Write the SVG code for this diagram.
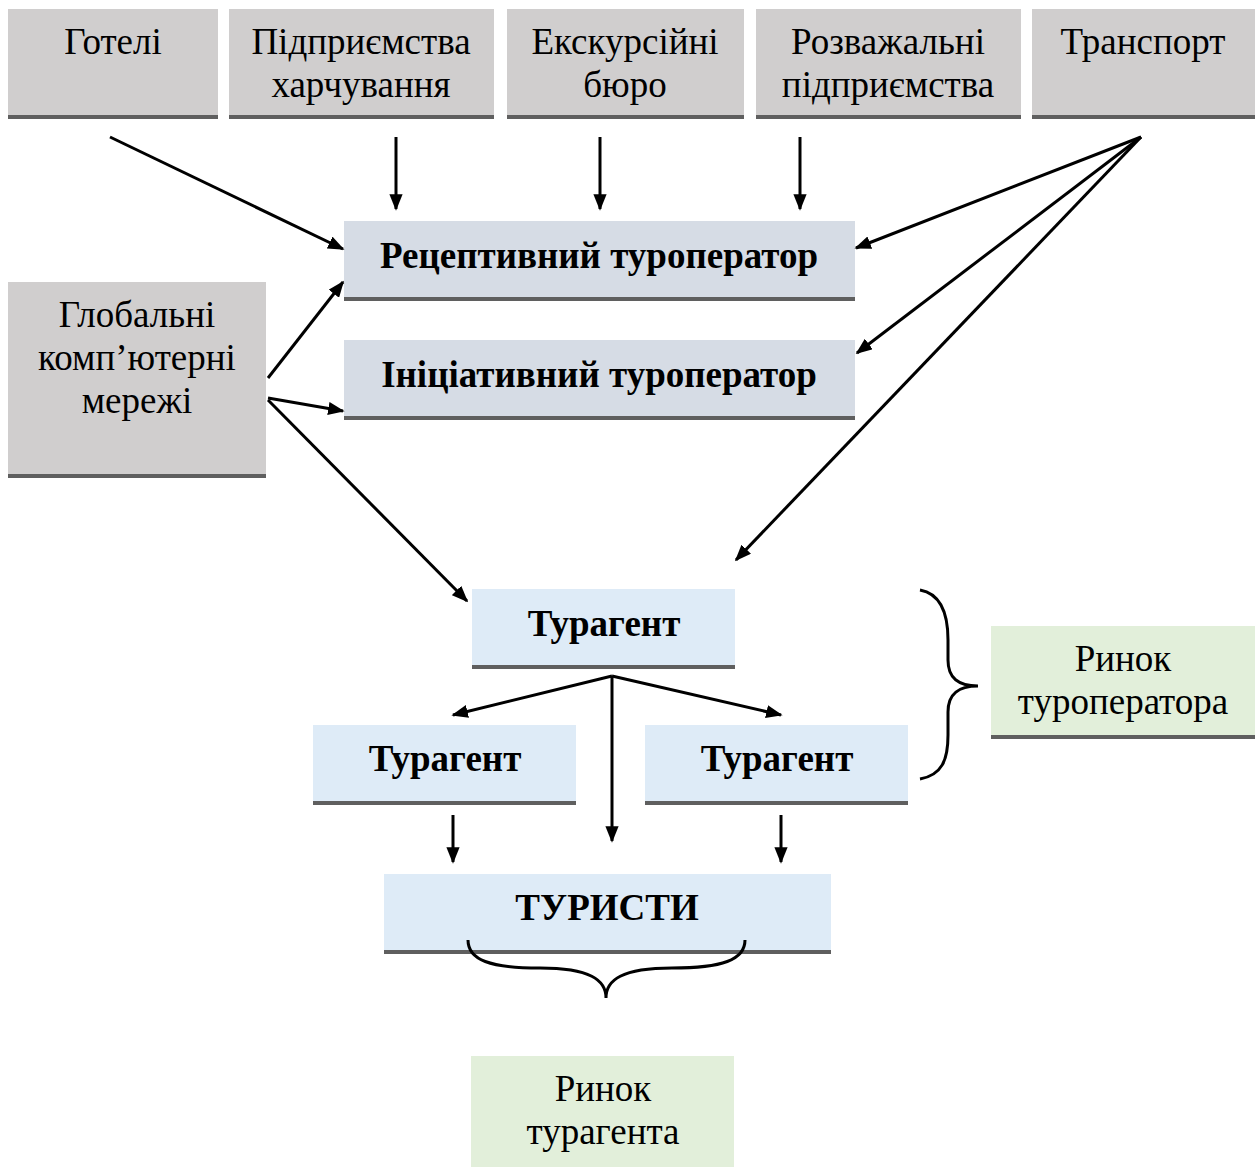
<svg xmlns="http://www.w3.org/2000/svg" width="1255" height="1167" viewBox="0 0 1255 1167">
<style>
.g{fill:#d0cece}
.b{fill:#d6dce5}
.l{fill:#deebf7}
.gr{fill:#e2efda}
.bd{fill:#5f5f5f}
.t{font-family:"Liberation Serif","Times New Roman",serif;font-size:37px;fill:#000;text-anchor:middle}
.tb{font-family:"Liberation Serif","Times New Roman",serif;font-size:37px;font-weight:bold;fill:#000;text-anchor:middle}
.c{stroke:#000;stroke-width:3;fill:none;marker-end:url(#ah)}
.br{stroke:#000;stroke-width:3;fill:none}
</style>
<defs>
<marker id="ah" viewBox="0 0 10 8" refX="9" refY="4" markerWidth="5.5" markerHeight="4.4" markerUnits="strokeWidth" orient="auto">
<path d="M0,0 L10,4 L0,8 Z" fill="#000"/>
</marker>
</defs>
<rect width="1255" height="1167" fill="#fff"/>

<g id="hotels"><rect class="g" x="8" y="9" width="210" height="110"/><rect class="bd" x="8" y="115" width="210" height="4"/><text class="t" x="113" y="54">Готелі</text></g>
<g id="food"><rect class="g" x="229" y="9" width="265" height="110"/><rect class="bd" x="229" y="115" width="265" height="4"/><text class="t" x="361" y="54">Підприємства</text><text class="t" x="361" y="97">харчування</text></g>
<g id="excursion"><rect class="g" x="507" y="9" width="237" height="110"/><rect class="bd" x="507" y="115" width="237" height="4"/><text class="t" x="625" y="54">Екскурсійні</text><text class="t" x="625" y="97">бюро</text></g>
<g id="entertainment"><rect class="g" x="756" y="9" width="265" height="110"/><rect class="bd" x="756" y="115" width="265" height="4"/><text class="t" x="888" y="54">Розважальні</text><text class="t" x="888" y="97">підприємства</text></g>
<g id="transport"><rect class="g" x="1032" y="9" width="223" height="110"/><rect class="bd" x="1032" y="115" width="223" height="4"/><text class="t" x="1143" y="54">Транспорт</text></g>

<g id="global"><rect class="g" x="8" y="282" width="258" height="196"/><rect class="bd" x="8" y="474" width="258" height="4"/><text class="t" x="137" y="327">Глобальні</text><text class="t" x="137" y="370">комп’ютерні</text><text class="t" x="137" y="413">мережі</text></g>

<g id="receptive"><rect class="b" x="344" y="221" width="511" height="80"/><rect class="bd" x="344" y="297" width="511" height="4"/><text class="tb" x="599" y="268">Рецептивний туроператор</text></g>
<g id="initiative"><rect class="b" x="344" y="340" width="511" height="80"/><rect class="bd" x="344" y="416" width="511" height="4"/><text class="tb" x="599" y="387">Ініціативний туроператор</text></g>

<g id="agent-main"><rect class="l" x="472" y="589" width="263" height="80"/><rect class="bd" x="472" y="665" width="263" height="4"/><text class="tb" x="604" y="636">Турагент</text></g>
<g id="agent-left"><rect class="l" x="313" y="725" width="263" height="80"/><rect class="bd" x="313" y="801" width="263" height="4"/><text class="tb" x="445" y="771">Турагент</text></g>
<g id="agent-right"><rect class="l" x="645" y="725" width="263" height="80"/><rect class="bd" x="645" y="801" width="263" height="4"/><text class="tb" x="777" y="771">Турагент</text></g>
<g id="tourists"><rect class="l" x="384" y="874" width="447" height="80"/><rect class="bd" x="384" y="950" width="447" height="4"/><text class="tb" x="607" y="920">ТУРИСТИ</text></g>

<g id="market-operator"><rect class="gr" x="991" y="626" width="264" height="113"/><rect class="bd" x="991" y="735" width="264" height="4"/><text class="t" x="1123" y="671">Ринок</text><text class="t" x="1123" y="714">туроператора</text></g>
<g id="market-agent"><rect class="gr" x="471" y="1056" width="263" height="111"/><text class="t" x="603" y="1101">Ринок</text><text class="t" x="603" y="1144">турагента</text></g>

<g id="connectors">
<line class="c" x1="110" y1="137" x2="343" y2="249"/>
<line class="c" x1="396" y1="137" x2="396" y2="209"/>
<line class="c" x1="600" y1="137" x2="600" y2="209"/>
<line class="c" x1="800" y1="137" x2="800" y2="209"/>
<line class="c" x1="1141" y1="137" x2="856" y2="248"/>
<line class="c" x1="1141" y1="137" x2="857" y2="353"/>
<line class="c" x1="1141" y1="137" x2="736" y2="560"/>
<line class="c" x1="268" y1="378" x2="343" y2="282"/>
<line class="c" x1="268" y1="398" x2="343" y2="411"/>
<line class="c" x1="268" y1="400" x2="467" y2="601"/>
<line class="c" x1="612" y1="676" x2="453" y2="715"/>
<line class="c" x1="612" y1="676" x2="781" y2="715"/>
<line class="c" x1="612" y1="676" x2="612" y2="841"/>
<line class="c" x1="453" y1="815" x2="453" y2="862"/>
<line class="c" x1="781" y1="815" x2="781" y2="862"/>
</g>

<g id="braces">
<path class="br" d="M920,590 C942,594 948,615 948,640 L948,660 C948,678 958,686 978,686 C958,686 948,694 948,712 L948,735 C948,760 942,775 920,779"/>
<path class="br" d="M468,940 C468,960 490,968 540,968 C590,968 606,980 606,998 C606,980 622,968 672,968 C722,968 745,960 745,940"/>
</g>
</svg>
